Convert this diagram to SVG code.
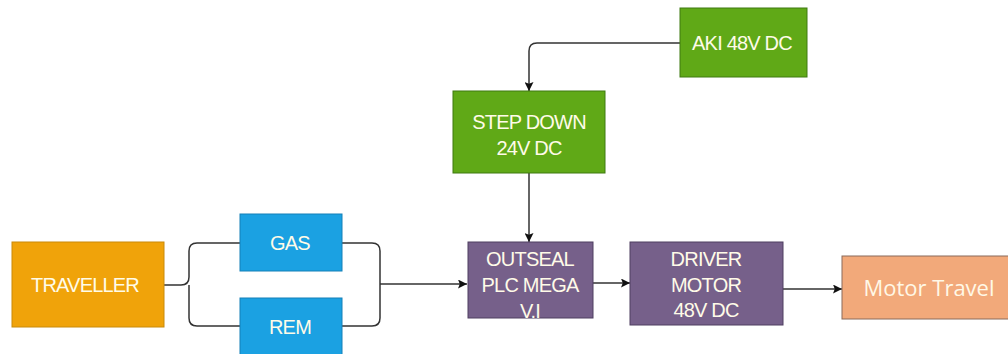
<svg xmlns="http://www.w3.org/2000/svg" width="1008" height="354" viewBox="0 0 1008 354">
  <style>
    .box { stroke-width: 1; }
    .lbl { font-family: "Liberation Sans", Arial, sans-serif; font-size: 20px; fill: #fffbe8; text-anchor: middle; letter-spacing: -0.8px; }
    .wire { fill: none; stroke: #333333; stroke-width: 1.5; }
  </style>
  <defs>
    <marker id="arrow" viewBox="0 0 10 10" refX="10" refY="5" markerWidth="10" markerHeight="9" markerUnits="userSpaceOnUse" orient="auto">
      <path d="M0,0 L10,5 L0,10 L2,5 Z" fill="#111111"/>
    </marker>
  </defs>
  <rect width="1008" height="354" fill="#ffffff"/>

  <g id="connectors">
    <!-- traveller split to GAS and REM -->
    <path class="wire" d="M164,285 H181 Q189,285 189,277 V251 Q189,243 197,243 H240"/>
    <path class="wire" d="M189,285 V318 Q189,326 197,326 H240"/>
    <!-- GAS and REM merge into PLC -->
    <path class="wire" d="M342,243 H372 Q380,243 380,251 V285"/>
    <path class="wire" d="M342,326 H372 Q380,326 380,318 V285"/>
    <path class="wire" d="M380,284 H467" marker-end="url(#arrow)"/>
    <!-- power chain -->
    <path class="wire" d="M680,43 H537 Q529,43 529,51 V91" marker-end="url(#arrow)"/>
    <path class="wire" d="M529,173 V242" marker-end="url(#arrow)"/>
    <!-- control chain -->
    <path class="wire" d="M593,283 H630" marker-end="url(#arrow)"/>
    <path class="wire" d="M783,289 H842" marker-end="url(#arrow)"/>
  </g>

  <g id="traveller">
    <rect class="box" x="12" y="242" width="152" height="85" fill="#F0A30A" stroke="#C98A0A"/>
    <text class="lbl" x="85" y="292">TRAVELLER</text>
  </g>

  <g id="gas">
    <rect class="box" x="240" y="214" width="102" height="57" fill="#1BA1E2" stroke="#1480B8"/>
    <text class="lbl" x="290" y="250">GAS</text>
  </g>

  <g id="rem">
    <rect class="box" x="240" y="298" width="102" height="57" fill="#1BA1E2" stroke="#1480B8"/>
    <text class="lbl" x="290" y="334">REM</text>
  </g>

  <g id="aki">
    <rect class="box" x="680" y="8" width="127" height="69" fill="#60A917" stroke="#3E7A10"/>
    <text class="lbl" x="742" y="50">AKI 48V DC</text>
  </g>

  <g id="stepdown">
    <rect class="box" x="453" y="91" width="152" height="82" fill="#60A917" stroke="#3E7A10"/>
    <text class="lbl" x="529" y="129">STEP DOWN</text>
    <text class="lbl" x="529" y="155">24V DC</text>
  </g>

  <g id="plc">
    <rect class="box" x="468" y="242" width="125" height="76" fill="#76608A" stroke="#4F3E60"/>
    <text class="lbl" x="530" y="266">OUTSEAL</text>
    <text class="lbl" x="530" y="292">PLC MEGA</text>
    <text class="lbl" x="530" y="318">V.I</text>
  </g>

  <g id="driver">
    <rect class="box" x="630" y="242" width="153" height="83" fill="#76608A" stroke="#4F3E60"/>
    <text class="lbl" x="706" y="266">DRIVER</text>
    <text class="lbl" x="706" y="292">MOTOR</text>
    <text class="lbl" x="706" y="317">48V DC</text>
  </g>

  <g id="motortravel">
    <rect class="box" x="842" y="256" width="180" height="63" fill="#F2A97A" stroke="#8A6A5A"/>
    <text x="929" y="296" style="font-family: 'Open Sans', 'Noto Sans', sans-serif; font-size: 22px; fill: #fff8e6; text-anchor: middle;">Motor Travel</text>
  </g>
</svg>
